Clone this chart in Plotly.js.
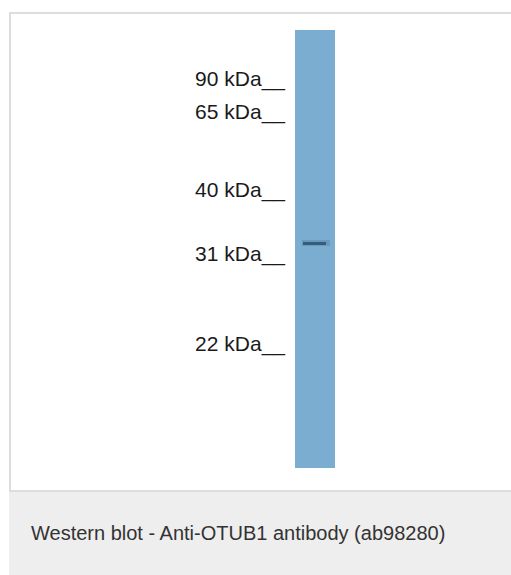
<!DOCTYPE html>
<html>
<head>
<meta charset="utf-8">
<script src="https://cdn.plot.ly/plotly-3.0.1.min.js"></script>
<style>
  html, body { margin: 0; padding: 0; background: #ffffff; }
  #chart { width: 511px; height: 575px; }
</style>
</head>
<body>
<div id="chart"></div>
<script>
// Molecular-weight ladder (labels and their migration position on the blot, px from top)
const markerLabels = ['90 kDa', '65 kDa', '40 kDa', '31 kDa', '22 kDa'];
const markerPositions = [79, 112, 190, 254, 344];

// Lane and detected band (migration position, px from top)
const laneNames = ['OTUB1'];
const laneStart = [30];
const laneEnd = [468];
const bandPositions = [243];
const bandThickness = [3];

const caption = 'Western blot - Anti-OTUB1 antibody (ab98280)';

const W = 511, H = 575;
const laneX = 315, laneW = 40;
const FONT = '"Liberation Sans", Arial, Helvetica, sans-serif';

const traces = [
  {
    type: 'bar',
    name: laneNames[0],
    x: laneNames.map(() => laneX),
    base: laneStart,
    y: laneStart.map((s, i) => laneEnd[i] - s),
    width: laneW,
    marker: { color: '#7badd1', line: { width: 0 } },
    hoverinfo: 'skip'
  },
  {
    type: 'bar',
    name: 'band halo',
    x: bandPositions.map(() => laneX + 0.5),
    base: bandPositions.map((p, i) => p - bandThickness[i] / 2 - 1.5),
    y: bandThickness.map(t => t + 3),
    width: 28,
    marker: { color: 'rgba(60,100,135,0.28)', line: { width: 0 } },
    hoverinfo: 'skip'
  },
  {
    type: 'bar',
    name: 'band',
    x: bandPositions.map(() => laneX - 0.5),
    base: bandPositions.map((p, i) => p - bandThickness[i] / 2),
    y: bandThickness,
    width: 23,
    marker: { color: 'rgba(38,72,102,0.75)', line: { width: 0 } },
    hoverinfo: 'skip'
  }
];

const layout = {
  width: W,
  height: H,
  margin: { l: 0, r: 0, t: 0, b: 0, pad: 0 },
  paper_bgcolor: '#ffffff',
  plot_bgcolor: 'rgba(0,0,0,0)',
  showlegend: false,
  barmode: 'overlay',
  bargap: 0,
  xaxis: { range: [0, W], visible: false, fixedrange: true },
  yaxis: {
    range: [H, 0],
    anchor: 'free',
    position: 285 / W,
    side: 'left',
    showgrid: false,
    zeroline: false,
    showline: false,
    ticks: '',
    automargin: false,
    tickmode: 'array',
    tickvals: markerPositions,
    ticktext: markerLabels.map(l => l + '__'),
    tickfont: { family: FONT, size: 21, color: '#1a1a1a' },
    fixedrange: true
  },
  shapes: [
    {
      type: 'rect', xref: 'x', yref: 'y', layer: 'below',
      x0: 10, x1: W + 5, y0: 13, y1: 491,
      line: { color: '#dddddd', width: 2 }, fillcolor: '#ffffff'
    },
    {
      type: 'rect', xref: 'x', yref: 'y', layer: 'below',
      x0: 9, x1: W + 5, y0: 492, y1: H + 5,
      line: { width: 0 }, fillcolor: '#eeeeee'
    }
  ],
  annotations: [
    {
      text: caption, xref: 'x', yref: 'y', x: 29, y: 533,
      xanchor: 'left', yanchor: 'middle', showarrow: false,
      font: { family: FONT, size: 20, color: '#333333' }
    }
  ]
};

Plotly.newPlot('chart', traces, layout, { staticPlot: true, displayModeBar: false });
</script>
</body>
</html>
